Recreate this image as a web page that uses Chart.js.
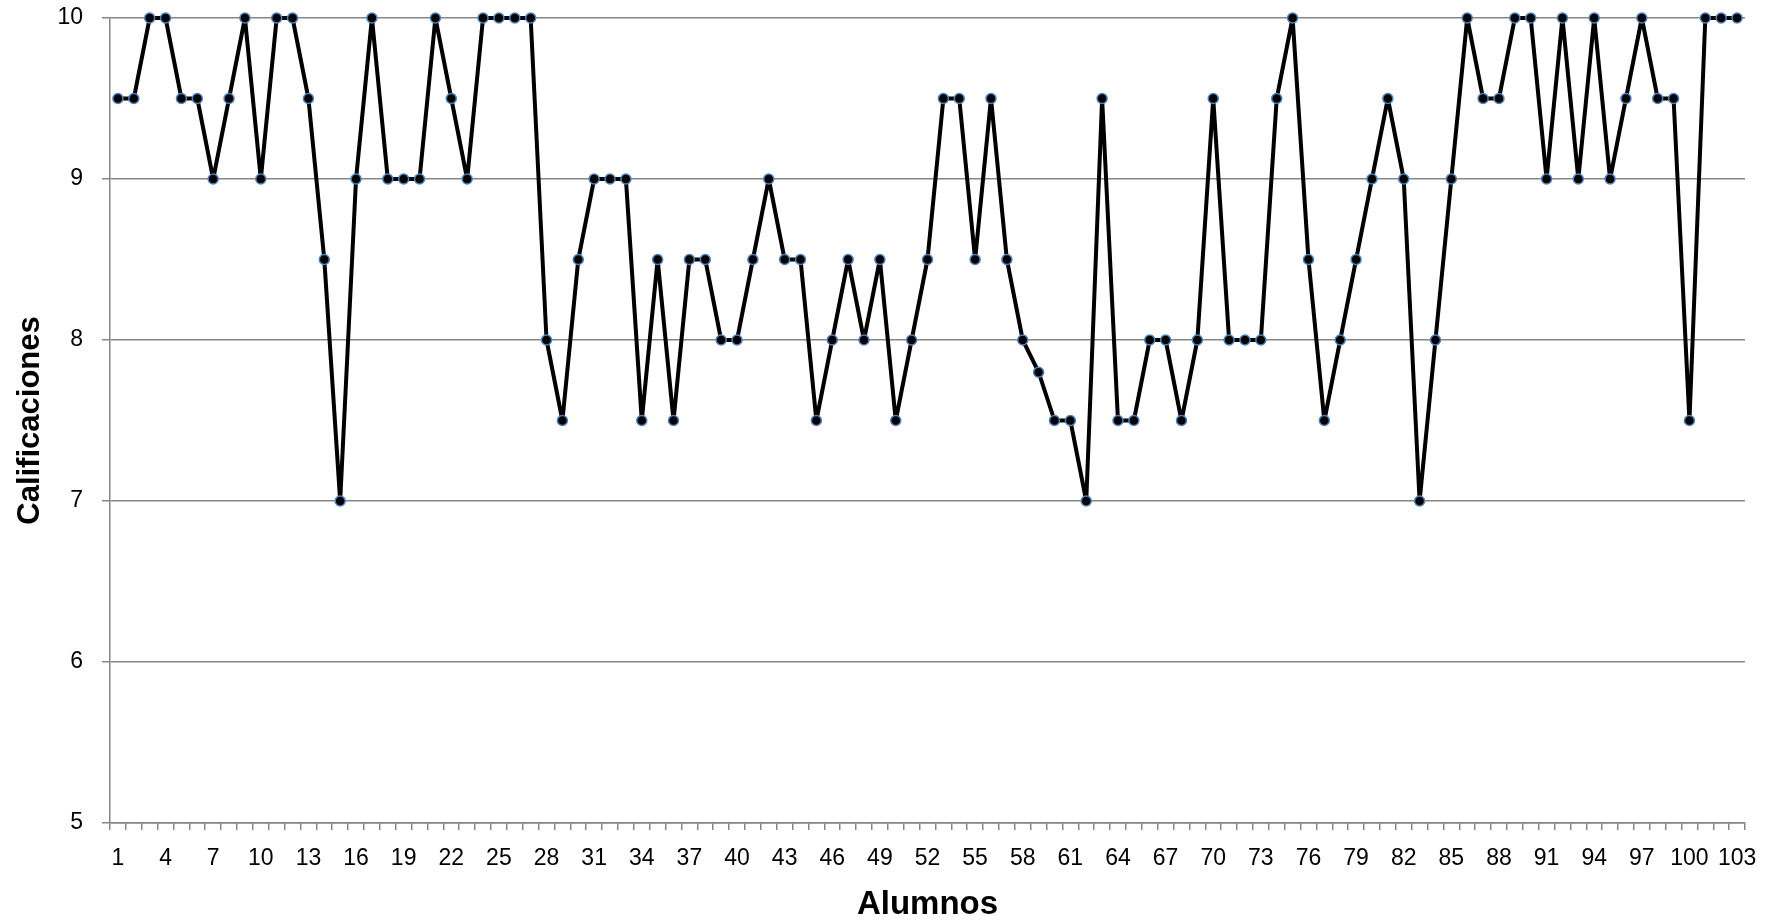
<!DOCTYPE html>
<html lang="es">
  <head>
    <meta charset="UTF-8" />
    <title>Calificaciones</title>
    <script src="https://cdn.jsdelivr.net/npm/chart.js@4.4.0/dist/chart.umd.min.js"></script>
    <style>
      html, body { margin: 0; padding: 0; background: #fff; }
      .chart-view { position: relative; width: 1766px; height: 923px; }
    </style>
  </head>
  <body>
    <div class="chart-view">
      <canvas id="chart"></canvas>
    </div>

    <script>
      // alumnos 1..103
      const alumnos = [
        1, 2, 3, 4, 5, 6, 7, 8, 9, 10, 11, 12, 13, 14, 15, 16, 17, 18, 19, 20,
        21, 22, 23, 24, 25, 26, 27, 28, 29, 30, 31, 32, 33, 34, 35, 36, 37, 38, 39, 40,
        41, 42, 43, 44, 45, 46, 47, 48, 49, 50, 51, 52, 53, 54, 55, 56, 57, 58, 59, 60,
        61, 62, 63, 64, 65, 66, 67, 68, 69, 70, 71, 72, 73, 74, 75, 76, 77, 78, 79, 80,
        81, 82, 83, 84, 85, 86, 87, 88, 89, 90, 91, 92, 93, 94, 95, 96, 97, 98, 99, 100,
        101, 102, 103
      ];

      // calificaciones
      const calificaciones = [
        9.5, 9.5, 10, 10, 9.5, 9.5, 9, 9.5, 10, 9,
        10, 10, 9.5, 8.5, 7, 9, 10, 9, 9, 9,
        10, 9.5, 9, 10, 10, 10, 10, 8, 7.5, 8.5,
        9, 9, 9, 7.5, 8.5, 7.5, 8.5, 8.5, 8, 8,
        8.5, 9, 8.5, 8.5, 7.5, 8, 8.5, 8, 8.5, 7.5,
        8, 8.5, 9.5, 9.5, 8.5, 9.5, 8.5, 8, 7.8, 7.5,
        7.5, 7, 9.5, 7.5, 7.5, 8, 8, 7.5, 8, 9.5,
        8, 8, 8, 9.5, 10, 8.5, 7.5, 8, 8.5, 9,
        9.5, 9, 7, 8, 9, 10, 9.5, 9.5, 10, 10,
        9, 10, 9, 10, 9, 9.5, 10, 9.5, 9.5, 7.5,
        10, 10, 10
      ];

      const yTicks = [5, 6, 7, 8, 9, 10];

      const FONT = "'Liberation Sans Narrow', 'Liberation Sans', sans-serif";
      const GRID = '#868686';

      //data
      const data = {
        labels: alumnos,
        datasets: [
          {
            label: 'Calificaciones',
            data: calificaciones,
            borderColor: '#000000',
            borderWidth: 4,
            borderJoinStyle: 'round',
            borderCapStyle: 'round',
            pointBackgroundColor: '#000000',
            pointBorderColor: '#4F81BD',
            pointBorderWidth: 1.5,
            pointRadius: 5,
            tension: 0,
            clip: false
          }
        ]
      };

      //config
      const config = {
        type: 'line',
        data: data,
        options: {
          responsive: true,
          maintainAspectRatio: false,
          animation: false,
          layout: { padding: { top: 18, right: 21, left: 0, bottom: 0 } },
          plugins: {
            legend: { display: false },
            tooltip: { enabled: false }
          },
          scales: {
            x: {
              offset: true,
              grid: {
                offset: true,
                drawOnChartArea: false,
                color: GRID,
                lineWidth: 1.5,
                tickLength: 7
              },
              border: { display: true, color: GRID, width: 1.5 },
              ticks: {
                autoSkip: false,
                maxRotation: 0,
                padding: 15,
                color: '#000',
                font: { family: FONT, size: 23 },
                callback: function (val, i) {
                  return i % 3 === 0 ? alumnos[i] : '';
                }
              },
              title: {
                display: true,
                text: 'Alumnos',
                color: '#000',
                font: { family: FONT, size: 33, weight: 'bold', lineHeight: 1.1 },
                padding: { top: 0, bottom: 0 }
              },
              afterFit: function (scale) {
                scale.height = 100;
                scale.paddingLeft = 0;
                scale.paddingRight = 0;
              }
            },
            y: {
              min: 5,
              max: 10,
              afterBuildTicks: function (scale) {
                scale.ticks = yTicks.map((v) => ({ value: v }));
              },
              grid: {
                color: GRID,
                lineWidth: 1.5,
                tickLength: 8
              },
              border: { display: true, color: GRID, width: 1.5 },
              ticks: {
                padding: 19,
                color: '#000',
                font: { family: FONT, size: 23 }
              },
              title: {
                display: true,
                text: 'Calificaciones',
                color: '#000',
                font: { family: FONT, size: 31, weight: 'bold', lineHeight: 1.2 },
                padding: { top: 12, bottom: 0 }
              },
              afterFit: function (scale) {
                scale.width = 110;
                scale.paddingTop = 0;
                scale.paddingBottom = 0;
              }
            }
          }
        }
      };

      //init
      const ctx = document.getElementById('chart');
      const chart = new Chart(ctx, config);
    </script>
  </body>
</html>
